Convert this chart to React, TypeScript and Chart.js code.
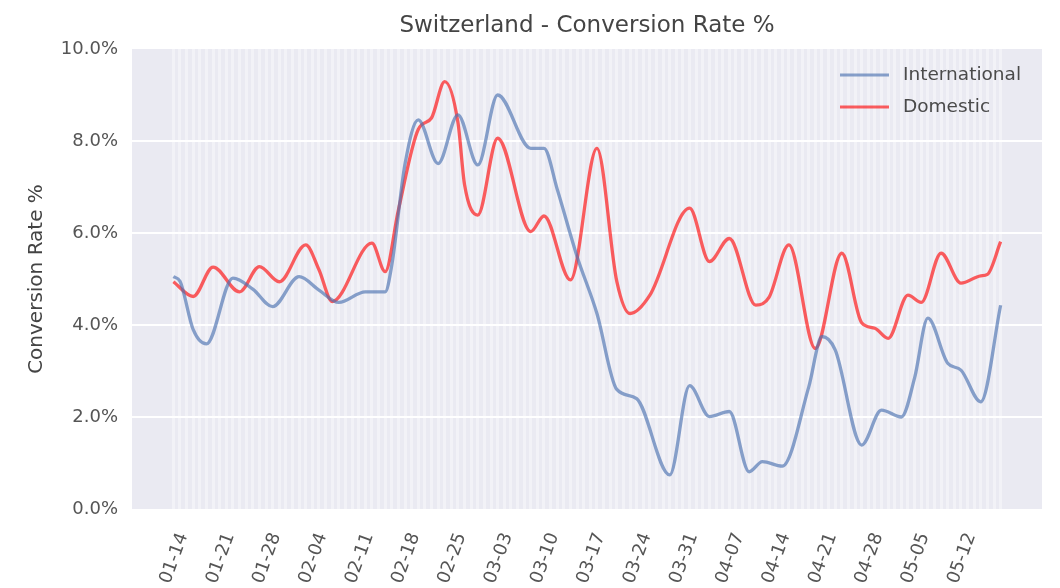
import React, { useEffect, useRef } from 'react';
import { Chart, registerables } from 'chart.js';

Chart.register(...registerables);

// ---- data ----
const TITLE = 'Switzerland - Conversion Rate %';
const Y_LABEL = 'Conversion Rate %';
const DAY_COUNT = 126; // 2020-01-14 .. 2020-05-18, daily
const weekLabels = [
  '01-14', '01-21', '01-28', '02-04', '02-11', '02-18', '02-25', '03-03', '03-10',
  '03-17', '03-24', '03-31', '04-07', '04-14', '04-21', '04-28', '05-05', '05-12',
];

const intlDays = [0, 1, 3, 5, 9, 12, 15, 19, 22, 25, 29, 32, 33, 35, 37, 40, 43, 46, 49, 54, 56, 58, 61, 64, 67, 70, 75, 78, 81, 84, 87, 89, 92, 96, 98, 100, 104, 107, 110, 112, 114, 117, 119, 122, 125];
const intlRate = [5.05, 4.95, 3.9, 3.59, 5.02, 4.78, 4.4, 5.05, 4.76, 4.49, 4.72, 4.72, 5.3, 7.5, 8.46, 7.51, 8.57, 7.48, 9.0, 7.84, 7.84, 6.95, 5.49, 4.25, 2.6, 2.4, 0.74, 2.68, 2.01, 2.12, 0.81, 1.03, 0.93, 2.65, 3.75, 3.46, 1.39, 2.15, 2.0, 2.85, 4.15, 3.17, 3.02, 2.33, 4.43];

const domDays = [0, 3, 6, 10, 13, 16, 20, 22, 24, 30, 32, 34, 37, 39, 41, 43, 44, 46, 49, 54, 56, 60, 64, 67, 69, 72, 78, 81, 84, 88, 90, 93, 97, 101, 104, 106, 108, 111, 113, 116, 119, 122, 123, 125];
const domRate = [4.94, 4.62, 5.26, 4.72, 5.27, 4.94, 5.74, 5.2, 4.51, 5.78, 5.16, 6.5, 8.25, 8.5, 9.29, 8.4, 7.05, 6.39, 8.06, 6.03, 6.37, 4.98, 7.84, 4.95, 4.25, 4.65, 6.54, 5.38, 5.88, 4.43, 4.6, 5.74, 3.49, 5.56, 4.05, 3.93, 3.71, 4.65, 4.49, 5.56, 4.91, 5.07, 5.1, 5.81];

const Y_TICKS = [0, 2, 4, 6, 8, 10];

const FONT = '"DejaVu Sans", "Liberation Sans", sans-serif';
const BLUE = 'rgba(76, 114, 176, 0.65)';
const RED = 'rgba(255, 0, 0, 0.62)';

const bgPlugin = {
  id: 'plotBg',
  beforeDraw(chart: any) {
    const { ctx, chartArea } = chart;
    ctx.save();
    ctx.fillStyle = '#ffffff';
    ctx.fillRect(0, 0, chart.width, chart.height);
    ctx.fillStyle = '#EAEAF2';
    ctx.fillRect(chartArea.left, chartArea.top, chartArea.right - chartArea.left, chartArea.bottom - chartArea.top);
    ctx.restore();
  },
};

const titlePlugin = {
  id: 'plotTitle',
  afterDraw(chart: any) {
    const { ctx, chartArea } = chart;
    ctx.save();
    ctx.font = `23px ${FONT}`;
    ctx.fillStyle = '#444444';
    ctx.textAlign = 'center';
    ctx.textBaseline = 'middle';
    ctx.fillText(TITLE, (chartArea.left + chartArea.right) / 2, 26);
    ctx.restore();
  },
};

const legendPlugin = {
  id: 'innerLegend',
  afterDraw(chart: any) {
    const { ctx, chartArea } = chart;
    ctx.save();
    ctx.font = `18.5px ${FONT}`;
    ctx.textBaseline = 'middle';
    ctx.textAlign = 'left';
    chart.data.datasets.forEach((ds: any, i: number) => {
      const y = chartArea.top + 26 + i * 32;
      const x0 = chartArea.right - 202;
      ctx.strokeStyle = ds.borderColor;
      ctx.lineWidth = 3;
      ctx.beginPath();
      ctx.moveTo(x0, y);
      ctx.lineTo(x0 + 49, y);
      ctx.stroke();
      ctx.fillStyle = '#4a4a4a';
      ctx.fillText(ds.label, x0 + 63, y);
    });
    ctx.restore();
  },
};

export default function App() {
  const ref = useRef<HTMLCanvasElement | null>(null);

  useEffect(() => {
    if (!ref.current) return;
    const span = DAY_COUNT - 1;
    const chart = new Chart(ref.current, {
      type: 'line',
      data: {
        datasets: [
          {
            label: 'International',
            data: intlDays.map((d, i) => ({ x: d, y: intlRate[i] })),
            borderColor: BLUE,
            borderWidth: 3.3,
            pointRadius: 0,
            cubicInterpolationMode: 'monotone',
            fill: false,
          },
          {
            label: 'Domestic',
            data: domDays.map((d, i) => ({ x: d, y: domRate[i] })),
            borderColor: RED,
            borderWidth: 3.3,
            pointRadius: 0,
            cubicInterpolationMode: 'monotone',
            fill: false,
          },
        ],
      },
      options: {
        animation: false,
        responsive: false,
        events: [],
        layout: { padding: { top: 49, right: 18, left: 0, bottom: 0 } },
        plugins: {
          legend: { display: false },
          title: { display: false },
          tooltip: { enabled: false },
        },
        scales: {
          x: {
            type: 'linear',
            min: -0.05 * span,
            max: span * 1.05,
            border: { display: false },
            afterBuildTicks: (scale: any) => {
              scale.ticks = Array.from({ length: DAY_COUNT }, (_, i) => ({ value: i }));
            },
            afterFit: (scale: any) => {
              scale.height = 79;
            },
            grid: {
              color: 'rgba(255,255,255,0.38)',
              lineWidth: 3,
              drawTicks: false,
            },
            ticks: {
              autoSkip: false,
              minRotation: 70,
              maxRotation: 70,
              padding: 21,
              labelOffset: 10,
              color: '#555555',
              font: { family: FONT, size: 18 },
              callback: (_v: any, index: number) => (index % 7 === 0 ? weekLabels[index / 7] ?? '' : ''),
            },
          },
          y: {
            min: 0,
            max: 10,
            border: { display: false },
            afterBuildTicks: (scale: any) => {
              scale.ticks = Y_TICKS.map((v) => ({ value: v }));
            },
            afterFit: (scale: any) => {
              scale.width = 132;
            },
            grid: {
              color: (c: any) => (c.tick && (c.tick.value === 0 || c.tick.value === 10) ? 'rgba(0,0,0,0)' : '#ffffff'),
              lineWidth: 2,
              drawTicks: false,
            },
            ticks: {
              padding: 14,
              color: '#555555',
              font: { family: FONT, size: 18 },
              callback: (v: any) => `${Number(v).toFixed(1)}%`,
            },
            title: {
              display: true,
              text: Y_LABEL,
              color: '#444444',
              font: { family: FONT, size: 20 },
              padding: { top: 25, bottom: 0 },
            },
          },
        },
      },
      plugins: [bgPlugin, titlePlugin, legendPlugin],
    } as any);
    return () => chart.destroy();
  }, []);

  return (
    <div style={{ position: 'fixed', left: 0, top: 0, width: 1060, height: 588, background: '#fff' }}>
      <canvas ref={ref} width={1060} height={588} style={{ display: 'block' }} />
    </div>
  );
}
